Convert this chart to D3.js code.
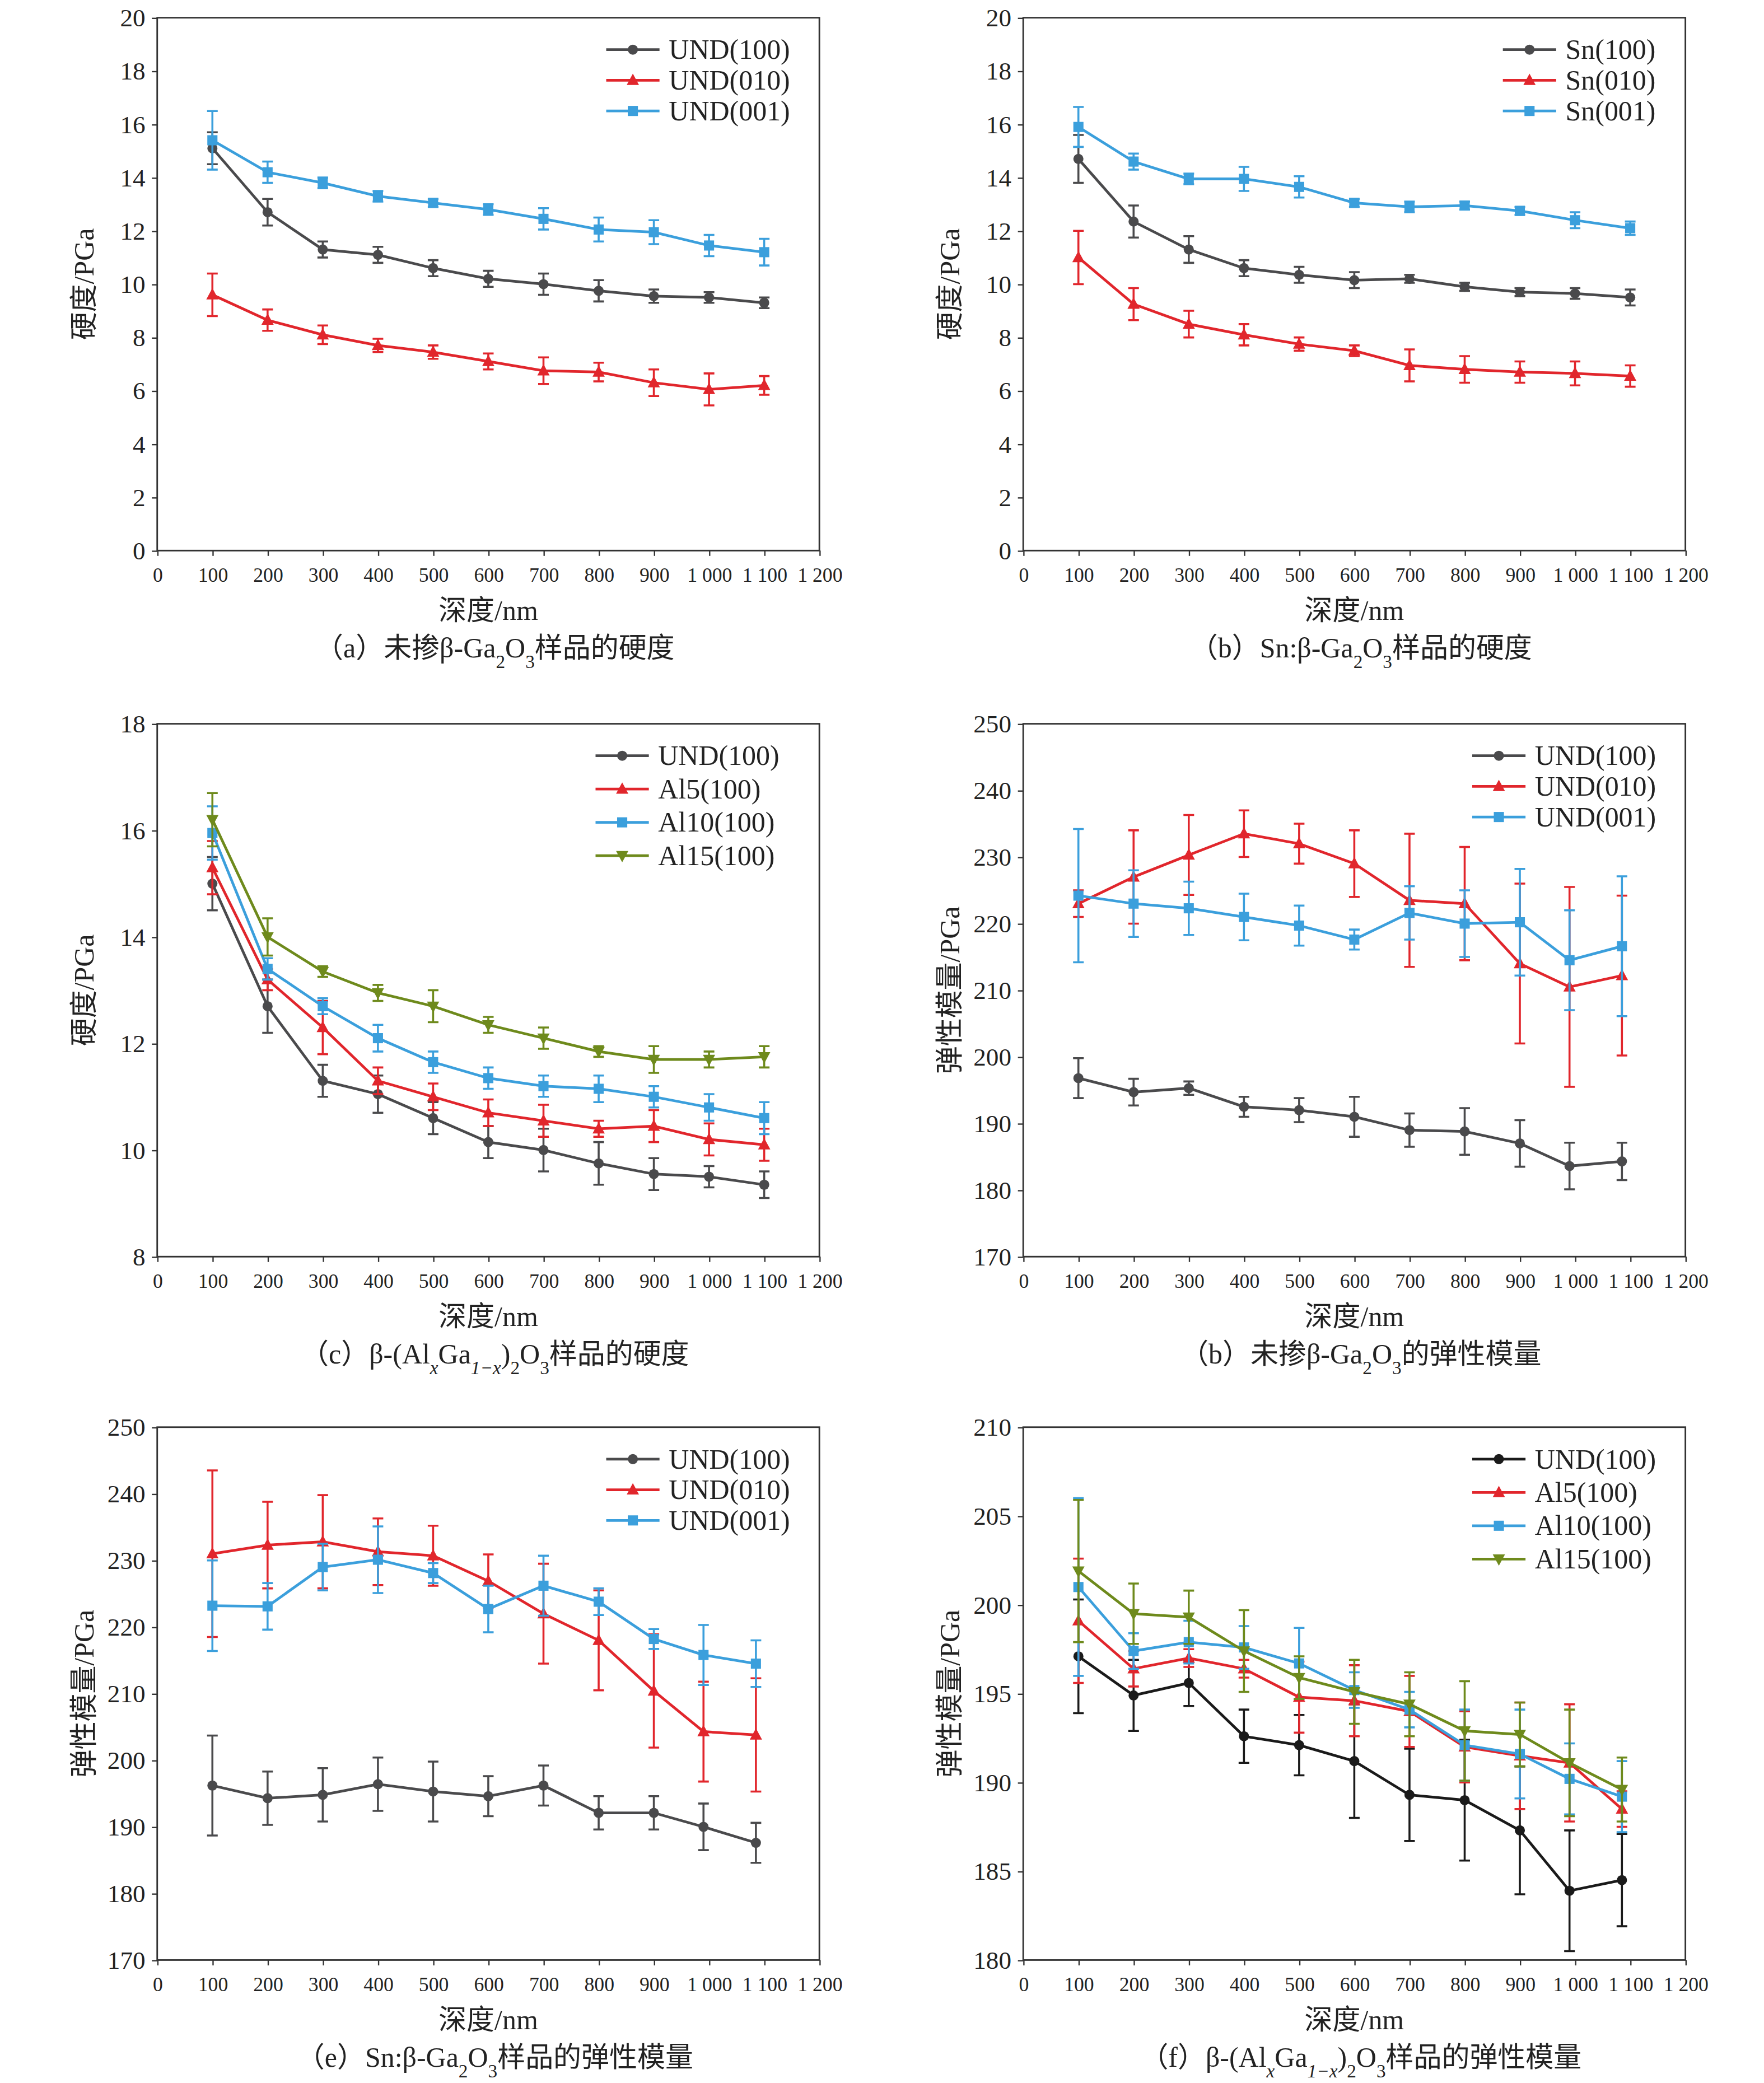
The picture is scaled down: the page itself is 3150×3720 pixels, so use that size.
<!DOCTYPE html>
<html>
<head>
<meta charset="utf-8">
<style>
  body { margin: 0; background: #fff; }
  text { font-family: "Liberation Serif", "Noto Sans CJK SC", serif; fill: #222; }
</style>
</head>
<body>
<div id="chart"></div>
<script src="https://cdn.jsdelivr.net/npm/d3@7"></script>
<script>
var depth = [100, 200, 300, 400, 500, 600, 700, 800, 900, 1000, 1100];
var depthShift = [100, 200, 300, 400, 500, 600, 700, 800, 900, 990, 1085];
var xTicks = [0, 100, 200, 300, 400, 500, 600, 700, 800, 900, 1000, 1100, 1200];

// (a) undoped hardness
var aUND100 = [15.1, 12.7, 11.3, 11.1, 10.6, 10.2, 10.0, 9.75, 9.55, 9.5, 9.3];
var aUND100e = [0.6, 0.5, 0.3, 0.3, 0.3, 0.3, 0.4, 0.4, 0.25, 0.2, 0.2];
var aUND010 = [9.6, 8.65, 8.1, 7.7, 7.45, 7.1, 6.75, 6.7, 6.3, 6.05, 6.2];
var aUND010e = [0.8, 0.4, 0.35, 0.25, 0.25, 0.3, 0.5, 0.35, 0.5, 0.6, 0.35];
var aUND001 = [15.4, 14.2, 13.8, 13.3, 13.05, 12.8, 12.45, 12.05, 11.95, 11.45, 11.2];
var aUND001e = [1.1, 0.4, 0.2, 0.2, 0.15, 0.2, 0.4, 0.45, 0.45, 0.4, 0.5];
// (b) Sn hardness
var bSn100 = [14.7, 12.35, 11.3, 10.6, 10.35, 10.15, 10.2, 9.9, 9.7, 9.65, 9.5];
var bSn100e = [0.9, 0.6, 0.5, 0.3, 0.3, 0.3, 0.15, 0.15, 0.15, 0.2, 0.3];
var bSn010 = [11.0, 9.25, 8.5, 8.1, 7.75, 7.5, 6.95, 6.8, 6.7, 6.65, 6.55];
var bSn010e = [1.0, 0.6, 0.5, 0.4, 0.25, 0.2, 0.6, 0.5, 0.4, 0.45, 0.4];
var bSn001 = [15.9, 14.6, 13.95, 13.95, 13.65, 13.05, 12.9, 12.95, 12.75, 12.4, 12.1];
var bSn001e = [0.75, 0.3, 0.2, 0.45, 0.4, 0.15, 0.2, 0.15, 0.15, 0.3, 0.25];
// (c) Al hardness
var cUND100 = [15.0, 12.7, 11.3, 11.05, 10.6, 10.15, 10.0, 9.75, 9.55, 9.5, 9.35];
var cUND100e = [0.5, 0.5, 0.3, 0.35, 0.3, 0.3, 0.4, 0.4, 0.3, 0.2, 0.25];
var cAl5 = [15.3, 13.2, 12.3, 11.3, 11.0, 10.7, 10.55, 10.4, 10.45, 10.2, 10.1];
var cAl5e = [0.5, 0.2, 0.5, 0.25, 0.25, 0.25, 0.3, 0.15, 0.3, 0.3, 0.3];
var cAl10 = [15.95, 13.4, 12.7, 12.1, 11.65, 11.35, 11.2, 11.15, 11.0, 10.8, 10.6];
var cAl10e = [0.5, 0.2, 0.15, 0.25, 0.2, 0.2, 0.2, 0.25, 0.2, 0.25, 0.3];
var cAl15 = [16.2, 14.0, 13.35, 12.95, 12.7, 12.35, 12.1, 11.85, 11.7, 11.7, 11.75];
var cAl15e = [0.5, 0.35, 0.1, 0.15, 0.3, 0.15, 0.2, 0.1, 0.25, 0.15, 0.2];
// (d) undoped modulus
var dUND100 = [196.8, 194.7, 195.3, 192.5, 192.0, 191.0, 189.0, 188.8, 187.0, 183.6, 184.3];
var dUND100e = [3, 2, 1, 1.5, 1.8, 3, 2.5, 3.5, 3.5, 3.5, 2.8];
var dUND010 = [223, 227, 230.3, 233.5, 232, 229, 223.5, 223, 214, 210.5, 212.2];
var dUND010e = [2, 7, 6, 3.5, 3, 5, 10, 8.5, 12, 15, 12];
var dUND001 = [224.2, 223, 222.3, 221, 219.7, 217.6, 221.6, 220, 220.2, 214.5, 216.6];
var dUND001e = [10, 5, 4, 3.5, 3, 1.5, 4, 5, 8, 7.5, 10.5];
// (e) Sn modulus
var eUND100 = [196.2, 194.3, 194.8, 196.4, 195.3, 194.6, 196.2, 192.1, 192.1, 190.0, 187.6];
var eUND100e = [7.5, 4, 4, 4, 4.5, 3, 3, 2.5, 2.5, 3.5, 3];
var eUND010 = [231, 232.3, 232.8, 231.3, 230.7, 226.9, 222, 218, 210.4, 204.3, 203.8];
var eUND010e = [12.5, 6.5, 7, 5, 4.5, 4, 7.5, 7.5, 8.5, 7.5, 8.5];
var eUND001 = [223.2, 223.1, 229, 230.1, 228.1, 222.7, 226.2, 223.8, 218.2, 215.8, 214.5];
var eUND001e = [6.8, 3.5, 3.5, 5, 1.5, 3.5, 4.5, 2, 1.5, 4.5, 3.5];
// (f) Al modulus
var fUND100 = [197.1, 194.9, 195.6, 192.6, 192.1, 191.2, 189.3, 189.0, 187.3, 183.9, 184.5];
var fUND100e = [3.2, 2, 1.3, 1.5, 1.7, 3.2, 2.6, 3.4, 3.6, 3.4, 2.6];
var fAl5 = [199.1, 196.4, 197.0, 196.4, 194.8, 194.6, 194.0, 192.0, 191.5, 191.1, 188.5];
var fAl5e = [3.5, 1, 0.5, 0.5, 2, 2, 2, 2, 3, 3.3, 1];
var fAl10 = [201.0, 197.4, 197.9, 197.6, 196.7, 195.2, 194.1, 192.1, 191.6, 190.2, 189.2];
var fAl10e = [5, 1, 1.2, 1.2, 2, 1, 1, 2, 2.5, 2, 2];
var fAl15 = [201.9, 199.5, 199.3, 197.4, 195.9, 195.1, 194.4, 192.9, 192.7, 191.1, 189.6];
var fAl15e = [4, 1.7, 1.5, 2.3, 1.2, 1.8, 1.8, 2.8, 1.8, 3, 1.8];

var GRAY = "#4a4a4c", RED = "#e1262c", BLUE = "#3b9fdc", OLIVE = "#6e8a1c", BLACK = "#1a1a1a";

var panels = [
  { x0: 118, y0: 13, yDom: [0, 20], yStep: 2, xs: depth, ylab: "硬度/PGa", lx: 455,
    cap: ["（a）未掺β-Ga", ["2"], "O", ["3"], "样品的硬度"], spacing: 23,
    series: [["UND(100)", aUND100, aUND100e, GRAY, "c"], ["UND(010)", aUND010, aUND010e, RED, "t"], ["UND(001)", aUND001, aUND001e, BLUE, "s"]] },
  { x0: 768, y0: 13, yDom: [0, 20], yStep: 2, xs: depth, ylab: "硬度/PGa", lx: 1128,
    cap: ["（b）Sn:β-Ga", ["2"], "O", ["3"], "样品的硬度"], spacing: 23,
    series: [["Sn(100)", bSn100, bSn100e, GRAY, "c"], ["Sn(010)", bSn010, bSn010e, RED, "t"], ["Sn(001)", bSn001, bSn001e, BLUE, "s"]] },
  { x0: 118, y0: 543, yDom: [8, 18], yStep: 2, xs: depth, ylab: "硬度/PGa", lx: 447,
    cap: ["（c）β-(Al", ["x", true], "Ga", ["1−x", true], ")", ["2"], "O", ["3"], "样品的硬度"], spacing: 25,
    series: [["UND(100)", cUND100, cUND100e, GRAY, "c"], ["Al5(100)", cAl5, cAl5e, RED, "t"], ["Al10(100)", cAl10, cAl10e, BLUE, "s"], ["Al15(100)", cAl15, cAl15e, OLIVE, "v"]] },
  { x0: 768, y0: 543, yDom: [170, 250], yStep: 10, xs: depthShift, ylab: "弹性模量/PGa", lx: 1105,
    cap: ["（b）未掺β-Ga", ["2"], "O", ["3"], "的弹性模量"], spacing: 23,
    series: [["UND(100)", dUND100, dUND100e, GRAY, "c"], ["UND(010)", dUND010, dUND010e, RED, "t"], ["UND(001)", dUND001, dUND001e, BLUE, "s"]] },
  { x0: 118, y0: 1071, yDom: [170, 250], yStep: 10, xs: depthShift, ylab: "弹性模量/PGa", lx: 455,
    cap: ["（e）Sn:β-Ga", ["2"], "O", ["3"], "样品的弹性模量"], spacing: 23,
    series: [["UND(100)", eUND100, eUND100e, GRAY, "c"], ["UND(010)", eUND010, eUND010e, RED, "t"], ["UND(001)", eUND001, eUND001e, BLUE, "s"]] },
  { x0: 768, y0: 1071, yDom: [180, 210], yStep: 5, xs: depthShift, ylab: "弹性模量/PGa", lx: 1105,
    cap: ["（f）β-(Al", ["x", true], "Ga", ["1−x", true], ")", ["2"], "O", ["3"], "样品的弹性模量"], spacing: 25,
    series: [["UND(100)", fUND100, fUND100e, BLACK, "c"], ["Al5(100)", fAl5, fAl5e, RED, "t"], ["Al10(100)", fAl10, fAl10e, BLUE, "s"], ["Al15(100)", fAl15, fAl15e, OLIVE, "v"]] }
];

var W = 497, H = 400;
var svg = d3.select("#chart").append("svg")
  .attr("width", 3150).attr("height", 3720)
  .attr("viewBox", "0 0 1324 1563");
svg.append("rect").attr("width", 1324).attr("height", 1563).attr("fill", "#fff");

function marker(g, type, color, cx, cy) {
  var r = 3.8;
  if (type === "c") g.append("circle").attr("cx", cx).attr("cy", cy).attr("r", r).attr("fill", color);
  else if (type === "s") g.append("rect").attr("x", cx - r).attr("y", cy - r).attr("width", 2 * r).attr("height", 2 * r).attr("fill", color);
  else if (type === "t") g.append("path").attr("d", "M" + cx + "," + (cy - 5) + "L" + (cx + 4.6) + "," + (cy + 3.5) + "L" + (cx - 4.6) + "," + (cy + 3.5) + "Z").attr("fill", color);
  else g.append("path").attr("d", "M" + cx + "," + (cy + 5) + "L" + (cx + 4.6) + "," + (cy - 3.5) + "L" + (cx - 4.6) + "," + (cy - 3.5) + "Z").attr("fill", color);
}

panels.forEach(function(p) {
  var g = svg.append("g").attr("transform", "translate(" + p.x0 + "," + p.y0 + ")");
  var x = d3.scaleLinear().domain([0, 1200]).range([0, W]);
  var y = d3.scaleLinear().domain(p.yDom).range([H, 0]);

  var xa = g.append("g").attr("transform", "translate(0," + H + ")")
    .call(d3.axisBottom(x).tickValues(xTicks).tickSize(4)
      .tickFormat(function(d) { return d >= 1000 ? "1 " + String(d).slice(1) : d; }));
  xa.selectAll("text").attr("font-size", 15).attr("dy", "1.1em");
  var yt = d3.range(p.yDom[0], p.yDom[1] + 0.001, p.yStep);
  var ya = g.append("g").call(d3.axisLeft(y).tickValues(yt).tickSize(4));
  ya.selectAll("text").attr("font-size", 19).attr("dx", "-0.1em");
  g.selectAll(".domain").remove();
  g.selectAll(".tick line").attr("stroke", "#333");
  g.append("rect").attr("width", W).attr("height", H).attr("fill", "none").attr("stroke", "#333").attr("stroke-width", 1.2);

  var line = d3.line().x(function(d) { return x(d[0]); }).y(function(d) { return y(d[1]); });
  p.series.forEach(function(s) {
    var pts = s[1].map(function(v, i) { return [p.xs[i], v, s[2][i]]; });
    pts.forEach(function(d) {
      var cx = x(d[0]);
      g.append("path").attr("d", "M" + cx + "," + y(d[1] - d[2]) + "V" + y(d[1] + d[2]) +
        "M" + (cx - 4) + "," + y(d[1] - d[2]) + "h8M" + (cx - 4) + "," + y(d[1] + d[2]) + "h8")
        .attr("stroke", s[3]).attr("stroke-width", 1.5).attr("fill", "none");
    });
    g.append("path").datum(pts).attr("d", line).attr("fill", "none").attr("stroke", s[3]).attr("stroke-width", 2);
    pts.forEach(function(d) { marker(g, s[4], s[3], x(d[0]), y(d[1])); });
  });

  // legend
  p.series.forEach(function(s, i) {
    var ly = 24 + i * p.spacing;
    var lx = p.lx - p.x0;
    g.append("line").attr("x1", lx).attr("x2", lx + 40).attr("y1", ly).attr("y2", ly).attr("stroke", s[3]).attr("stroke-width", 2);
    marker(g, s[4], s[3], lx + 20, ly);
    g.append("text").attr("x", lx + 47).attr("y", ly + 7).attr("font-size", 21).text(s[0]);
  });

  // axis labels
  g.append("text").attr("x", W / 2).attr("y", H + 52).attr("text-anchor", "middle").attr("font-size", 21).text("深度/nm");
  g.append("text").attr("transform", "translate(-48," + (H / 2) + ") rotate(-90)").attr("text-anchor", "middle").attr("font-size", 21).text(p.ylab);

  // caption with sub-scripts
  var cap = g.append("text").attr("x", W / 2 + 5).attr("y", H + 80).attr("text-anchor", "middle").attr("font-size", 21);
  p.cap.forEach(function(c) {
    if (typeof c === "string") cap.append("tspan").text(c);
    else cap.append("tspan").attr("font-size", 14).attr("font-style", c[1] ? "italic" : null).attr("baseline-shift", "sub").text(c[0]);
  });
});
</script>
</body>
</html>
